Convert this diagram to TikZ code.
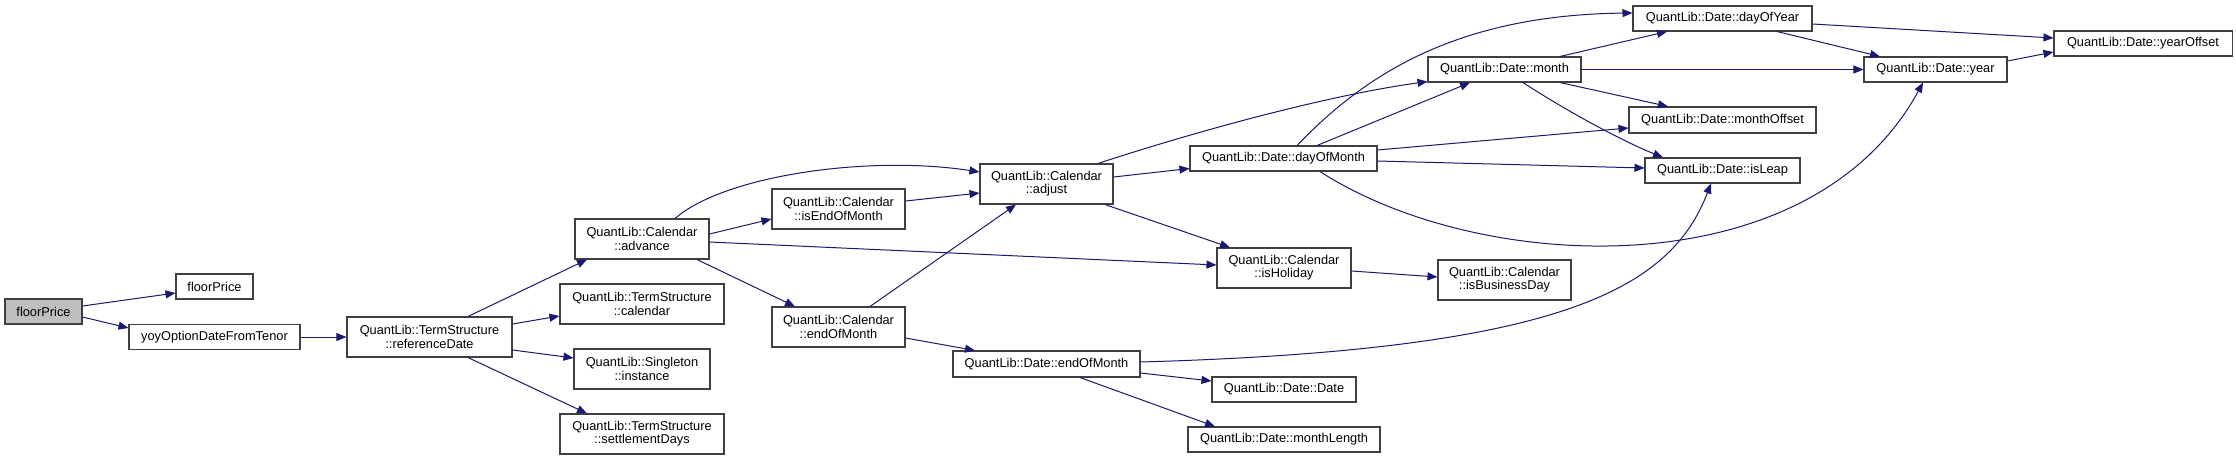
\documentclass[tikz,border=0pt]{standalone}
\usepackage{fontspec}
\setmainfont{Liberation Sans}
\usetikzlibrary{arrows.meta,calc}
\definecolor{edgeblue}{HTML}{191970}
\definecolor{boxline}{HTML}{404040}
\definecolor{rootfill}{HTML}{BFBFBF}
\tikzset{
  every node/.style={font=\fontsize{9.6}{10}\selectfont,text=black,inner sep=0pt},
  fn/.style={draw=boxline,line width=.8pt,fill=white,align=center,minimum height=18.75pt,minimum width=#1*0.75pt},
  fntwo/.style={fn=#1,minimum height=30pt},
  edge/.style={-{Triangle[length=7.5pt,width=6pt]},line width=.75pt,draw=edgeblue},
}

\begin{document}
\begin{tikzpicture}[x=.75pt,y=-.75pt]
\path[use as bounding box] (0,0) rectangle (2236,461);
\fill[white] (0,0) rectangle (2236,461);
% functions, column by column
\node[fn=77,fill=rootfill] (root) at (43.5,311.5) {floorPrice};
\node[fn=77] (fp) at (214.5,286.5) {floorPrice};
\node[fn=171] (yoy) at (214.5,337) {yoyOptionDateFromTenor};
\node[fntwo=165] (refdate) at (429.5,337) {QuantLib::TermStructure\\::referenceDate};
\node[fntwo=134] (advance) at (642,239) {QuantLib::Calendar\\::advance};
\node[fntwo=164] (tscal) at (642,304) {QuantLib::TermStructure\\::calendar};
\node[fntwo=136] (instance) at (642,369) {QuantLib::Singleton\\::instance};
\node[fntwo=164] (settle) at (642,434) {QuantLib::TermStructure\\::settlementDays};
\node[fntwo=133] (iseom) at (838.5,209) {QuantLib::Calendar\\::isEndOfMonth};
\node[fntwo=133] (caleom) at (838.5,327) {QuantLib::Calendar\\::endOfMonth};
\node[fntwo=133] (adjust) at (1046.5,184) {QuantLib::Calendar\\::adjust};
\node[fn=187,minimum height=19.5pt] (dateeom) at (1046.5,364) {QuantLib::Date::endOfMonth};
\node[fn=187] (dom) at (1283.5,158.5) {QuantLib::Date::dayOfMonth};
\node[fntwo=134] (holiday) at (1284,268) {QuantLib::Calendar\\::isHoliday};
\node[fn=144] (date) at (1284,389.5) {QuantLib::Date::Date};
\node[fn=192] (mlength) at (1284,439.5) {QuantLib::Date::monthLength};
\node[fn=153] (month) at (1504.5,69.5) {QuantLib::Date::month};
\node[fntwo=133] (busday) at (1504.5,280) {QuantLib::Calendar\\::isBusinessDay};
\node[fn=179] (doy) at (1722.5,18.5) {QuantLib::Date::dayOfYear};
\node[fn=187,minimum height=19.5pt] (moffset) at (1722.5,120) {QuantLib::Date::monthOffset};
\node[fn=155] (isleap) at (1722.5,170.5) {QuantLib::Date::isLeap};
\node[fn=143] (year) at (1935.5,69.5) {QuantLib::Date::year};
\node[fn=178] (yoffset) at (2143,43.5) {QuantLib::Date::yearOffset};
% calls
\draw[edge] ($(root.east)+(0,-5.5)$) -- ($(fp.west)+(0,6.5)$);
\draw[edge] ($(root.east)+(0,5.5)$) -- ($(yoy.north west)+(0,4)$);
\draw[edge] (yoy.east) -- (refdate.west);
\draw[edge] ($(refdate.north)+(38.5,0)$) -- ($(advance.south)+(-55,0)$);
\draw[edge] ($(refdate.east)+(0,-13)$) -- ($(tscal.west)+(0,12)$);
\draw[edge] ($(refdate.east)+(0,13)$) -- ($(instance.west)+(0,-11)$);
\draw[edge] ($(refdate.south)+(38.5,0)$) -- ($(settle.north)+(-55,0)$);
\draw[edge] ($(advance.north)+(33,0)$) .. controls (725,175) and (870,155) .. ($(adjust.west)+(0,-12)$);
\draw[edge] ($(advance.east)+(0,-5)$) -- ($(iseom.west)+(0,10)$);
\draw[edge] ($(advance.east)+(0,3)$) -- ($(holiday.west)+(0,-3)$);
\draw[edge] ($(advance.south)+(55,0)$) -- ($(caleom.north)+(-43.5,0)$);
\draw[edge] ($(iseom.east)+(0,-8)$) -- ($(adjust.west)+(0,9)$);
\draw[edge] ($(caleom.north)+(31.5,0)$) -- ($(adjust.south)+(-30.5,0)$);
\draw[edge] ($(caleom.east)+(0,11)$) -- ($(dateeom.north)+(-71.5,0)$);
\draw[edge] ($(adjust.north)+(51.5,0)$) .. controls (1200,130) and (1330,95) .. ($(month.south west)+(0,-1)$);
\draw[edge] ($(adjust.east)+(0,-7)$) -- ($(dom.west)+(0,10)$);
\draw[edge] ($(adjust.south)+(58.5,0)$) -- ($(holiday.north)+(-54,0)$);
\draw[edge] ($(dateeom.east)+(0,-2)$) .. controls (1560,350) and (1670,290) .. ($(isleap.south)+(-11.5,0)$);
\draw[edge] ($(dateeom.east)+(0,9)$) -- ($(date.west)+(0,-8.5)$);
\draw[edge] ($(dateeom.south)+(33.5,0)$) -- ($(mlength.north)+(-69,0)$);
\draw[edge] ($(dom.north)+(13.5,0)$) .. controls (1360,80) and (1450,15) .. ($(doy.west)+(0,-5.5)$);
\draw[edge] ($(dom.north)+(33.5,0)$) -- ($(month.south)+(-34.5,0)$);
\draw[edge] ($(dom.east)+(0,-8.5)$) -- ($(moffset.west)+(0,8)$);
\draw[edge] ($(dom.east)+(0,2.5)$) -- ($(isleap.west)+(0,-2.5)$);
\draw[edge] ($(dom.south)+(36.5,0)$) .. controls (1480,275) and (1810,290) .. ($(year.south)+(-12.5,0)$);
\draw[edge] ($(holiday.east)+(0,3)$) -- ($(busday.west)+(0,-3)$);
\draw[edge] ($(month.north)+(55.5,0)$) -- ($(doy.south)+(-55.5,0)$);
\draw[edge] (month.east) -- (year.west);
\draw[edge] ($(month.south)+(55.5,0)$) -- ($(moffset.north)+(-54.5,0)$);
\draw[edge] ($(month.south)+(18.5,0)$) .. controls (1565,110) and (1620,140) .. ($(isleap.north)+(-59.5,0)$);
\draw[edge] ($(doy.east)+(0,5.5)$) -- ($(yoffset.west)+(0,-5.5)$);
\draw[edge] ($(doy.south)+(54.5,0)$) -- ($(year.north)+(-55.5,0)$);
\draw[edge] ($(year.east)+(0,-8.5)$) -- ($(yoffset.west)+(0,8.5)$);
\end{tikzpicture}
\end{document}
